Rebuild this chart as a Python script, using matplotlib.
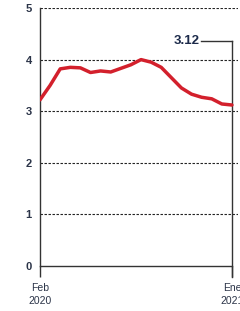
import matplotlib.pyplot as plt
import numpy as np

# valores aproximados (feb 2020 - ene 2021)
valores = [3.22, 3.50, 3.82, 3.85, 3.84, 3.75, 3.78, 3.76, 3.83, 3.90,
           4.00, 3.95, 3.85, 3.65, 3.45, 3.33, 3.27, 3.24, 3.14, 3.12]
etiquetas_x = ["Feb\n2020", "Ene\n2021"]
etiquetas_y = ["0", "1", "2", "3", "4", "5"]
ultimo = "3.12"

x = np.arange(len(valores))
n = len(valores) - 1

fig = plt.figure(figsize=(2.4, 3.11), dpi=100)
ax = fig.add_axes([40/240, 1-266/311, 198/240, 258/311])

ax.plot(x, valores, color="#d3202c", lw=2.5, solid_capstyle="round", zorder=3)

# lineas guia punteadas
for v in range(1, 6):
    ax.plot([0, n + 0.6], [v, v], color="#222222", lw=0.8,
            dashes=(2.2, 1.4), zorder=1)

ax.set_xlim(0, n + 0.6)
ax.set_ylim(0, 5)

# anotacion del ultimo valor
ya = 4.36
ax.plot([n, n], [-0.22, ya], color="#333333", lw=1.0, clip_on=False, zorder=2)
ax.plot([15.9, n], [ya, ya], color="#333333", lw=1.0, zorder=2)
ax.text(15.8, ya, ultimo, ha="right", va="center", fontsize=9.5,
        fontweight="bold", family="Liberation Sans", color="#1c2a4a")

for s in ["top", "right"]:
    ax.spines[s].set_visible(False)
ax.spines["left"].set_color("#333333")
ax.spines["bottom"].set_color("#333333")
ax.spines["left"].set_linewidth(1.0)
ax.spines["bottom"].set_linewidth(1.0)
ax.spines["bottom"].set_bounds(0, n)

ax.set_yticks(range(6))
ax.set_yticklabels(etiquetas_y, fontsize=8, fontweight="bold",
                   family="Liberation Sans", color="#2b3448")
ax.tick_params(axis="y", length=0, pad=6)

ax.set_xticks([0, n])
ax.set_xticklabels(etiquetas_x, fontsize=7.5, family="Liberation Sans",
                   color="#2b3448", linespacing=1.4)
ax.tick_params(axis="x", length=8, width=1.0, color="#333333", pad=4)

fig.savefig("out.png", dpi=100)
